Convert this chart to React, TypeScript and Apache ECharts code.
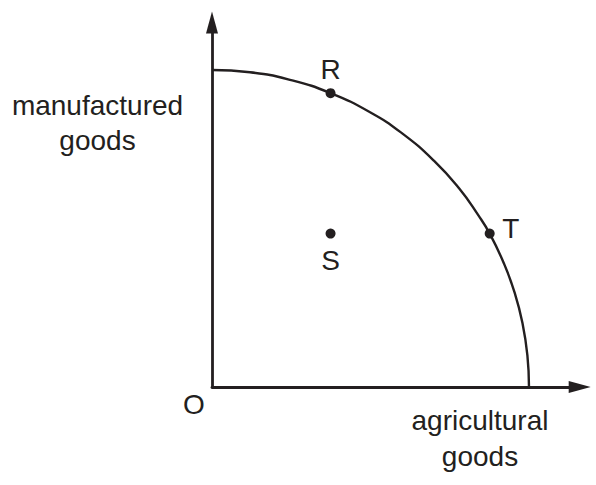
import React, { useEffect, useRef } from "react";
import * as echarts from "echarts";

// Production possibility curve (units: 10 = intercept)
const curveX = [0, 1.2, 2.5, 3.74, 5.0, 6.0, 7.0, 7.8, 8.4, 8.76, 9.2, 9.55, 9.8, 9.95, 10];
const curveY = [10, 9.93, 9.68, 9.27, 8.66, 8.0, 7.14, 6.26, 5.42, 4.84, 3.92, 2.97, 1.99, 1.0, 0];

const pointNames = ["R", "S", "T"];
const pointX = [3.74, 3.74, 8.76];
const pointY = [9.27, 4.84, 4.84];

const xAxisTitle = "agricultural\ngoods";
const yAxisTitle = "manufactured\ngoods";
const originLabel = "O";

const INK = "#231f20";
const FONT = '"Liberation Sans", Arial, Helvetica, sans-serif';
const FS = 28;

export default function App() {
  const ref = useRef<HTMLDivElement>(null);
  useEffect(() => {
    if (!ref.current) return;
    const chart = echarts.init(ref.current, undefined, { renderer: "svg" });
    const labelOffsets: Record<string, number[]> = {
      R: [0, -24],
      S: [0, 27],
      T: [21, -5],
    };
    chart.setOption({
      animation: false,
      backgroundColor: "#ffffff",
      grid: { left: 212, right: 16.3, top: 22.45, bottom: 98 },
      xAxis: {
        type: "value",
        min: 0,
        max: 11.6,
        axisLine: {
          show: true,
          onZero: false,
          symbol: ["none", "triangle"],
          symbolSize: [12, 22],
          lineStyle: { color: INK, width: 2.8 },
        },
        axisTick: { show: false },
        axisLabel: { show: false },
        splitLine: { show: false },
      },
      yAxis: {
        type: "value",
        min: 0,
        max: 11.5,
        axisLine: {
          show: true,
          onZero: false,
          symbol: ["none", "triangle"],
          symbolSize: [12, 22],
          lineStyle: { color: INK, width: 2.8 },
        },
        axisTick: { show: false },
        axisLabel: { show: false },
        splitLine: { show: false },
      },
      series: [
        {
          type: "line",
          data: curveX.map((x, i) => [x, curveY[i]]),
          showSymbol: false,
          smooth: true,
          lineStyle: { color: INK, width: 2.4 },
          silent: true,
        },
        {
          type: "scatter",
          symbol: "circle",
          symbolSize: 10,
          itemStyle: { color: INK, opacity: 1 },
          data: pointNames.map((n, i) => ({
            name: n,
            value: [pointX[i], pointY[i]],
            label: {
              show: true,
              position: "inside",
              offset: labelOffsets[n],
              formatter: n,
              color: INK,
              fontFamily: FONT,
              fontSize: FS,
            },
          })),
        },
      ],
      graphic: [
        {
          type: "text",
          x: 97.5,
          y: 123,
          style: {
            text: yAxisTitle,
            fill: INK,
            font: `${FS}px ${FONT}`,
            lineHeight: 35,
            align: "center",
            verticalAlign: "middle",
          },
        },
        {
          type: "text",
          x: 480,
          y: 438.5,
          style: {
            text: xAxisTitle,
            fill: INK,
            font: `${FS}px ${FONT}`,
            lineHeight: 36,
            align: "center",
            verticalAlign: "middle",
          },
        },
        {
          type: "text",
          x: 194,
          y: 404.5,
          style: {
            text: originLabel,
            fill: INK,
            font: `${FS}px ${FONT}`,
            align: "center",
            verticalAlign: "middle",
          },
        },
      ],
    });
    return () => chart.dispose();
  }, []);
  return (
    <div
      ref={ref}
      style={{ position: "fixed", left: 0, top: 0, width: 596, height: 485 }}
    />
  );
}
